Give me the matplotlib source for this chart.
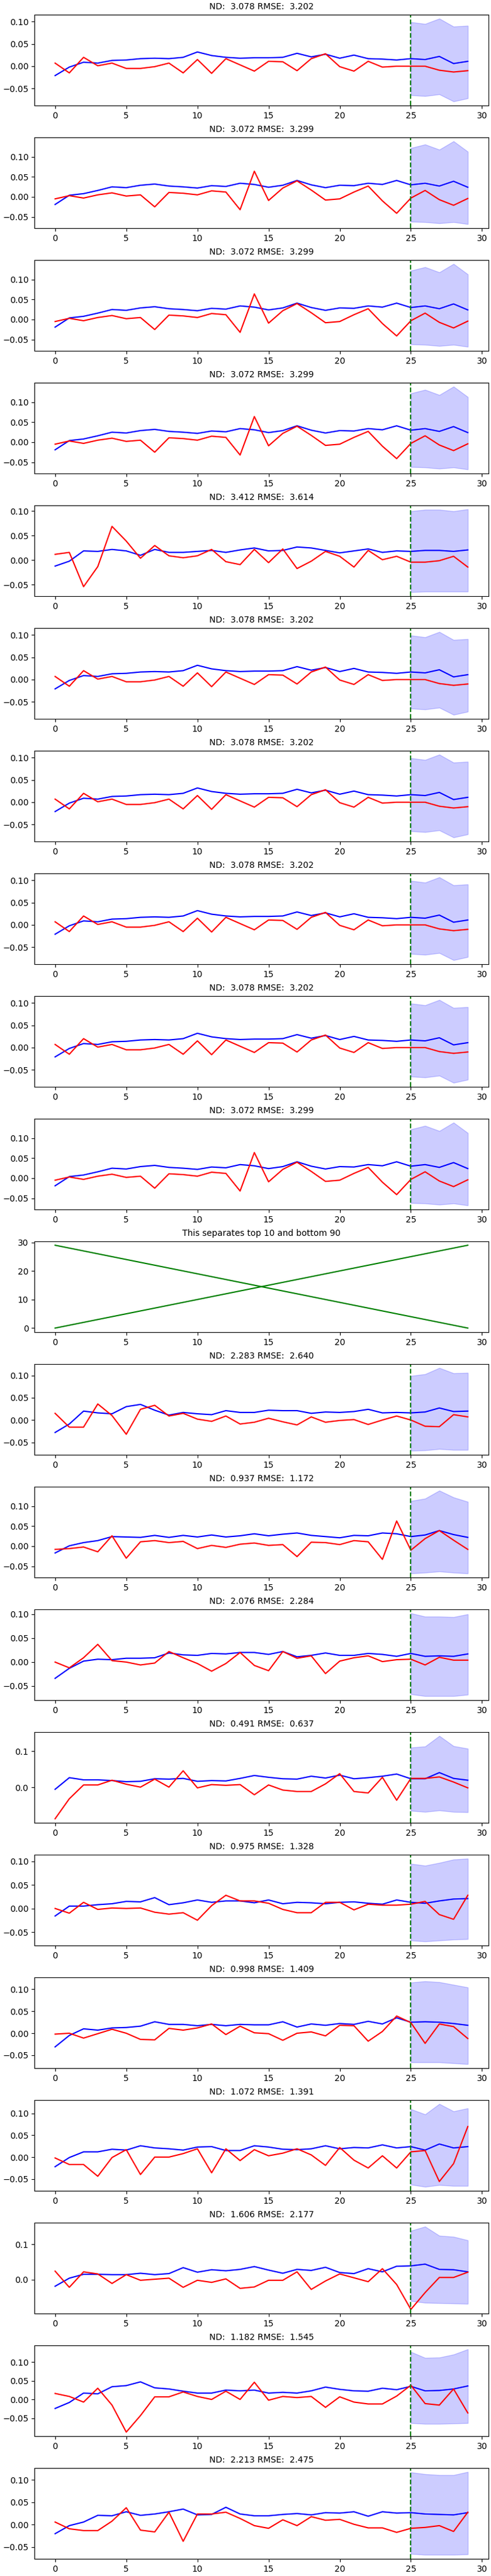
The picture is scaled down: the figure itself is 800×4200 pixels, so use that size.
import numpy as np
import matplotlib
matplotlib.use('Agg')
import matplotlib.pyplot as plt

window_size = 30
predict_start = 25
x = np.arange(window_size)

# --- top-10 windows: only three distinct series repeat ---
pred_a = [-0.021, -0.002, 0.009, 0.007, 0.013, 0.014, 0.017, 0.018, 0.017, 0.020,
          0.032, 0.024, 0.020, 0.018, 0.019, 0.019, 0.020, 0.029, 0.021, 0.027,
          0.018, 0.025, 0.017, 0.016, 0.014, 0.017, 0.015, 0.022, 0.006, 0.011]
label_a = [0.007, -0.015, 0.020, 0.001, 0.007, -0.005, -0.005, -0.001, 0.007, -0.015,
           0.015, -0.016, 0.017, 0.003, -0.011, 0.011, 0.010, -0.010, 0.017, 0.028,
           -0.001, -0.011, 0.011, -0.002, 0.000, 0.000, 0.000, -0.009, -0.013, -0.010]
upper_a = [0.099, 0.095, 0.107, 0.089, 0.091]
lower_a = [-0.065, -0.067, -0.063, -0.079, -0.072]

pred_b = [-0.019, 0.004, 0.008, 0.016, 0.025, 0.023, 0.029, 0.032, 0.027, 0.025,
          0.022, 0.028, 0.026, 0.034, 0.031, 0.024, 0.029, 0.041, 0.030, 0.023,
          0.029, 0.028, 0.034, 0.031, 0.041, 0.030, 0.034, 0.027, 0.039, 0.024]
label_b = [-0.005, 0.003, -0.003, 0.005, 0.010, 0.002, 0.005, -0.025, 0.011, 0.009,
           0.005, 0.015, 0.012, -0.032, 0.064, -0.009, 0.022, 0.040, 0.017, -0.008,
           -0.005, 0.012, 0.027, -0.010, -0.041, -0.003, 0.016, -0.007, -0.021, -0.004]
upper_b = [0.122, 0.131, 0.118, 0.139, 0.113]
lower_b = [-0.062, -0.063, -0.066, -0.063, -0.068]

pred_c = [-0.012, -0.002, 0.019, 0.018, 0.022, 0.019, 0.010, 0.022, 0.016, 0.016,
          0.018, 0.020, 0.016, 0.021, 0.025, 0.019, 0.020, 0.027, 0.025, 0.020,
          0.015, 0.019, 0.023, 0.016, 0.019, 0.018, 0.020, 0.020, 0.018, 0.021]
label_c = [0.012, 0.016, -0.054, -0.013, 0.069, 0.039, 0.004, 0.030, 0.009, 0.005,
           0.009, 0.022, -0.003, -0.009, 0.022, -0.005, 0.023, -0.017, -0.002, 0.018,
           0.008, -0.014, 0.020, 0.001, 0.008, -0.004, -0.004, -0.001, 0.008, -0.014]
upper_c = [0.100, 0.103, 0.103, 0.100, 0.104]
lower_c = [-0.065, -0.064, -0.064, -0.064, -0.064]

top_order = ['a', 'b', 'b', 'b', 'c', 'a', 'a', 'a', 'a', 'b']

# --- bottom windows ---
pred_bottom = [
    [-0.028, -0.009, 0.020, 0.016, 0.014, 0.030, 0.035, 0.022, 0.011, 0.017,
     0.014, 0.012, 0.021, 0.017, 0.017, 0.022, 0.021, 0.021, 0.015, 0.018,
     0.017, 0.019, 0.024, 0.016, 0.017, 0.016, 0.018, 0.027, 0.019, 0.020],
    [-0.017, 0.001, 0.009, 0.014, 0.024, 0.023, 0.022, 0.027, 0.022, 0.027,
     0.023, 0.028, 0.023, 0.026, 0.031, 0.026, 0.030, 0.033, 0.027, 0.024,
     0.021, 0.027, 0.026, 0.033, 0.031, 0.024, 0.028, 0.039, 0.029, 0.022],
    [-0.034, -0.013, 0.002, 0.006, 0.005, 0.008, 0.008, 0.009, 0.019, 0.015,
     0.014, 0.018, 0.017, 0.020, 0.020, 0.016, 0.022, 0.011, 0.014, 0.019,
     0.014, 0.014, 0.018, 0.016, 0.012, 0.018, 0.012, 0.013, 0.012, 0.017],
    [-0.005, 0.027, 0.021, 0.021, 0.019, 0.016, 0.017, 0.024, 0.023, 0.025,
     0.017, 0.019, 0.018, 0.025, 0.033, 0.028, 0.024, 0.023, 0.031, 0.026,
     0.034, 0.024, 0.027, 0.031, 0.037, 0.024, 0.024, 0.041, 0.025, 0.020],
    [-0.016, 0.005, 0.005, 0.008, 0.010, 0.015, 0.014, 0.023, 0.008, 0.012,
     0.018, 0.013, 0.016, 0.016, 0.012, 0.018, 0.010, 0.013, 0.012, 0.010,
     0.013, 0.014, 0.011, 0.009, 0.018, 0.013, 0.011, 0.016, 0.020, 0.021],
    [-0.031, -0.005, 0.010, 0.007, 0.012, 0.013, 0.016, 0.026, 0.020, 0.020,
     0.017, 0.020, 0.017, 0.020, 0.019, 0.019, 0.026, 0.014, 0.021, 0.018,
     0.022, 0.020, 0.027, 0.021, 0.035, 0.025, 0.026, 0.025, 0.022, 0.018],
    [-0.022, -0.001, 0.012, 0.012, 0.018, 0.016, 0.026, 0.021, 0.019, 0.016,
     0.023, 0.024, 0.015, 0.015, 0.026, 0.023, 0.018, 0.017, 0.019, 0.026,
     0.019, 0.022, 0.021, 0.028, 0.021, 0.024, 0.016, 0.030, 0.021, 0.024],
    [-0.019, 0.004, 0.015, 0.015, 0.014, 0.014, 0.018, 0.014, 0.017, 0.034,
     0.021, 0.028, 0.025, 0.029, 0.037, 0.027, 0.018, 0.029, 0.026, 0.035,
     0.020, 0.017, 0.031, 0.022, 0.038, 0.039, 0.044, 0.029, 0.028, 0.022],
    [-0.024, -0.008, 0.017, 0.015, 0.034, 0.037, 0.047, 0.031, 0.028, 0.022,
     0.017, 0.017, 0.025, 0.023, 0.025, 0.017, 0.019, 0.017, 0.023, 0.033,
     0.027, 0.023, 0.022, 0.030, 0.026, 0.035, 0.023, 0.024, 0.028, 0.036],
    [-0.020, -0.002, 0.006, 0.021, 0.020, 0.029, 0.021, 0.024, 0.029, 0.035,
     0.022, 0.023, 0.039, 0.024, 0.020, 0.020, 0.023, 0.025, 0.022, 0.027,
     0.026, 0.029, 0.019, 0.029, 0.026, 0.027, 0.024, 0.023, 0.022, 0.027],
]
label_bottom = [
    [0.015, -0.016, -0.016, 0.036, 0.010, -0.032, 0.024, 0.033, 0.009, 0.015,
     0.002, -0.003, 0.009, -0.009, -0.005, 0.004, -0.004, -0.011, 0.007, -0.005,
     -0.001, 0.001, -0.010, 0.000, 0.009, 0.000, -0.014, -0.015, 0.012, 0.007],
    [-0.008, -0.006, -0.002, -0.014, 0.026, -0.030, 0.011, 0.014, 0.009, 0.012,
     -0.006, 0.002, -0.003, 0.005, 0.008, 0.002, 0.004, -0.026, 0.010, 0.009,
     0.004, 0.014, 0.011, -0.033, 0.063, -0.010, 0.019, 0.039, 0.015, -0.008],
    [0.000, -0.012, 0.009, 0.037, 0.003, 0.000, -0.006, -0.002, 0.022, 0.009,
     -0.003, -0.019, -0.003, 0.020, -0.007, -0.018, 0.022, 0.008, 0.013, -0.024,
     0.002, 0.009, 0.013, 0.001, 0.005, 0.006, -0.006, 0.010, 0.004, 0.004],
    [-0.086, -0.031, 0.007, 0.007, 0.020, 0.009, 0.001, 0.023, 0.001, 0.046,
     -0.001, 0.008, 0.006, 0.008, -0.020, 0.007, -0.007, -0.011, -0.011, 0.010,
     0.038, -0.011, -0.015, 0.028, -0.035, 0.025, 0.025, 0.029, 0.015, -0.001],
    [0.000, -0.010, 0.013, -0.002, 0.001, 0.000, 0.001, -0.008, -0.012, -0.009,
     -0.025, 0.006, 0.028, 0.016, 0.016, 0.011, -0.002, -0.009, -0.009, 0.013,
     0.013, -0.003, 0.009, 0.007, 0.007, 0.009, 0.015, -0.013, -0.023, 0.028],
    [-0.002, 0.000, -0.011, -0.001, 0.009, 0.000, -0.014, -0.015, 0.011, 0.007,
     0.012, 0.021, -0.003, 0.016, 0.001, -0.001, -0.016, 0.000, 0.003, -0.006,
     0.018, 0.017, -0.018, 0.004, 0.039, 0.024, -0.023, 0.021, 0.015, -0.012],
    [-0.002, -0.017, -0.017, -0.044, -0.001, 0.017, -0.040, 0.000, 0.000, 0.008,
     0.019, -0.036, 0.019, -0.008, 0.017, 0.003, 0.009, 0.019, 0.005, -0.019,
     0.022, -0.007, -0.025, 0.003, -0.025, 0.012, 0.015, -0.056, -0.015, 0.070],
    [0.024, -0.022, 0.022, 0.016, -0.011, 0.014, -0.002, 0.001, 0.004, -0.022,
     -0.002, -0.008, 0.002, -0.025, -0.021, -0.002, -0.002, 0.022, -0.028, -0.004,
     0.016, 0.005, -0.006, 0.031, -0.014, -0.085, -0.037, 0.006, 0.006, 0.021],
    [0.016, 0.008, -0.007, 0.030, -0.015, -0.087, -0.043, 0.007, 0.007, 0.020,
     0.008, 0.000, 0.022, 0.000, 0.046, -0.002, 0.008, 0.005, 0.008, -0.021,
     0.007, -0.007, -0.012, -0.012, 0.009, 0.038, -0.011, -0.015, 0.028, -0.036],
    [0.006, -0.009, -0.013, -0.013, 0.008, 0.038, -0.012, -0.016, 0.028, -0.037,
     0.024, 0.024, 0.028, 0.014, -0.002, -0.008, 0.011, -0.002, 0.018, 0.010,
     0.012, 0.001, -0.007, -0.007, -0.017, -0.008, -0.006, -0.002, -0.015, 0.028],
]
upper_bottom = [
    [0.099, 0.103, 0.117, 0.105, 0.106],
    [0.113, 0.119, 0.139, 0.122, 0.111],
    [0.102, 0.095, 0.095, 0.094, 0.100],
    [0.110, 0.113, 0.142, 0.114, 0.107],
    [0.095, 0.091, 0.097, 0.104, 0.106],
    [0.115, 0.118, 0.116, 0.110, 0.104],
    [0.110, 0.098, 0.122, 0.105, 0.112],
    [0.139, 0.151, 0.125, 0.122, 0.112],
    [0.127, 0.111, 0.112, 0.120, 0.134],
    [0.117, 0.113, 0.111, 0.111, 0.118],
]
lower_bottom = [
    [-0.069, -0.068, -0.065, -0.067, -0.067],
    [-0.068, -0.066, -0.063, -0.066, -0.068],
    [-0.067, -0.071, -0.071, -0.071, -0.068],
    [-0.064, -0.067, -0.063, -0.067, -0.068],
    [-0.068, -0.070, -0.068, -0.066, -0.065],
    [-0.066, -0.066, -0.066, -0.068, -0.070],
    [-0.063, -0.068, -0.064, -0.066, -0.066],
    [-0.061, -0.066, -0.067, -0.068, -0.069],
    [-0.063, -0.065, -0.065, -0.064, -0.063],
    [-0.065, -0.067, -0.067, -0.067, -0.066],
]

nd = [3.078, 3.072, 3.072, 3.072, 3.412, 3.078, 3.078, 3.078, 3.078, 3.072,
      2.283, 0.937, 2.076, 0.491, 0.975, 0.998, 1.072, 1.606, 1.182, 2.213]
rmse = [3.202, 3.299, 3.299, 3.299, 3.614, 3.202, 3.202, 3.202, 3.202, 3.299,
        2.640, 1.172, 2.284, 0.637, 1.328, 1.409, 1.391, 2.177, 1.545, 2.475]

top = {'a': (pred_a, label_a, upper_a, lower_a),
       'b': (pred_b, label_b, upper_b, lower_b),
       'c': (pred_c, label_c, upper_c, lower_c)}
windows = [top[k] for k in top_order] + list(zip(pred_bottom, label_bottom, upper_bottom, lower_bottom))

f = plt.figure(figsize=(8, 42), constrained_layout=True)
nrows = 21
ax = f.subplots(nrows, 1)

for k in range(nrows):
    if k == 10:
        ax[k].plot(x, x, color='g')
        ax[k].plot(x, x[::-1], color='g')
        ax[k].set_title('This separates top 10 and bottom 90', fontsize=10)
        continue
    m = k if k < 10 else k - 1
    pred, lab, up, lo = windows[m]
    ax[k].plot(x, pred, color='b')
    ax[k].fill_between(x[predict_start:], lo, up, color='blue', alpha=0.2)
    ax[k].plot(x, lab, color='r')
    ax[k].axvline(predict_start, color='g', linestyle='dashed')
    ax[k].set_title(f'ND: {nd[m]: .3f} RMSE: {rmse[m]: .3f}', fontsize=10)

f.savefig('out.png', dpi=100)
plt.close(f)
